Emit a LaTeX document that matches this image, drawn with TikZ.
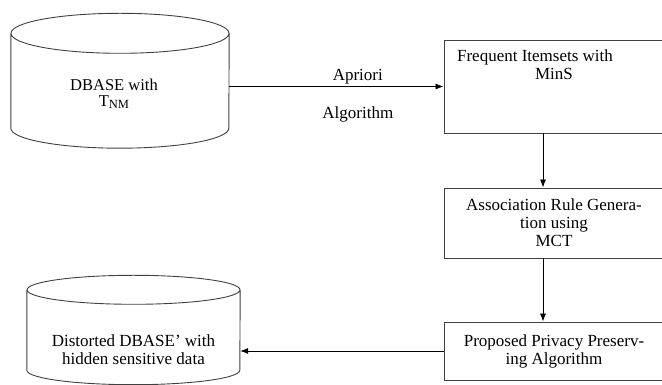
\documentclass[tikz,border=0pt]{standalone}
\usepackage{fontspec}
\setmainfont{Liberation Serif}
\usetikzlibrary{positioning,arrows.meta}
\tikzset{
  dbline/.style={draw=black!75, line width=0.9pt},
  procbox/.style={rectangle, draw=black!75, line width=0.9pt, minimum width=220pt, align=center, inner sep=0pt},
  flow/.style={-{Latex[length=8pt,width=6pt]}, line width=0.8pt},
  plain text/.style={align=center, inner sep=0pt}
}
\newcommand{\dbase}[5]{
    \pgfmathsetmacro{\dbR}{#2/2} % half width of the can

    % Body node, the can is drawn round it
    \draw (#1) node[rectangle, minimum width=#2, minimum height=#3, inner sep=0pt] (#5) {};
    \draw[dbline]
        (#5.north) ellipse ({\dbR} and {#4})
        (#5.north west) -- (#5.south west) arc (180:360:{\dbR} and {#4}) -- (#5.north east);
}

\begin{document}
\begin{tikzpicture}[x=1pt, y=1pt, font=\fontsize{17}{18}\selectfont]
    \clip (0,0) rectangle (662,385);

    % Input database
    \dbase{120,304.25}{218}{94.5}{20}{dbase}
    \draw node[plain text, font=\fontsize{16.5}{16}\selectfont] (dbasetext) at ([xshift=-6pt,yshift=-13pt]dbase.center)
        {DBASE with\\T\raisebox{-0.3ex}{\fontsize{12.5}{12}\selectfont NM}};

    % Processing steps
    \draw node[procbox, minimum height=93] (itemsets) at (554,298.5) {};
    \draw node[plain text, below=10pt of itemsets.north] (itemsetstext) {Frequent Itemsets with\hspace*{38pt}\\MinS};
    \draw node[procbox, minimum height=70] (rulegen) at (554,162) {Association Rule Genera-\\tion using\\MCT};
    \draw node[procbox, minimum height=58] (privacy) at (554,34) {Proposed Privacy Preserv-\\ing Algorithm};

    % Output database
    \dbase{133.5,55}{213}{80}{14.5}{distorted}
    \draw node[plain text] (distortedtext) at ([yshift=-20pt]distorted.center) {Distorted DBASE’ with\\hidden sensitive data};

    % Flow
    \draw[flow] (dbase.east |- itemsets.west) -- (itemsets.west)
        node[plain text, pos=0.6, above=2pt] (apriori) {Apriori}
        node[plain text, pos=0.6, below=20pt] (algorithm) {Algorithm};
    \draw[flow] ([xshift=-11pt]itemsets.south) -- ([xshift=-11pt]rulegen.north);
    \draw[flow] ([xshift=-11pt]rulegen.south) -- ([xshift=-11pt]privacy.north);
    \draw[flow] (privacy.west) -- (privacy.west -| distorted.east);
\end{tikzpicture}
\end{document}
